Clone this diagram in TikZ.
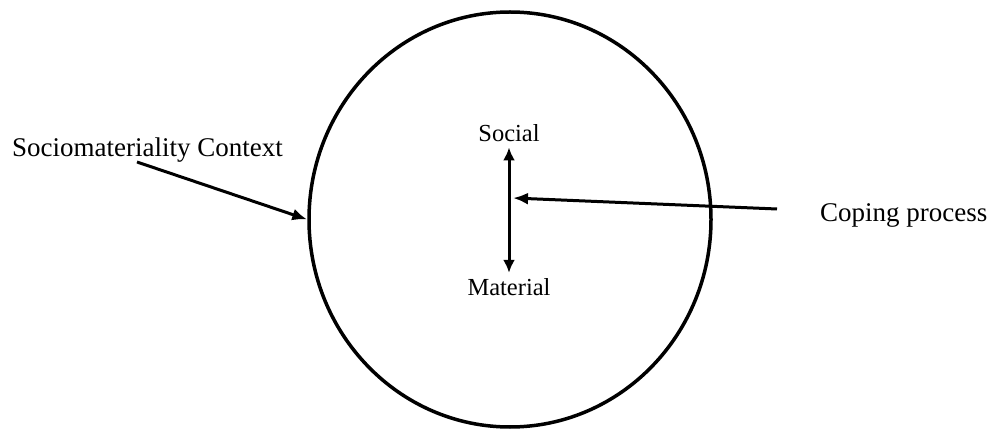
\documentclass[tikz,border=0pt]{standalone}
\usepackage{fontspec}
\setmainfont{Liberation Serif}
\usetikzlibrary{arrows.meta,shapes.geometric}

\begin{document}
\begin{tikzpicture}[x=1pt,y=-1pt]
\path[use as bounding box] (0,0) rectangle (990,430);
\tikzstyle{label}=[font=\fontsize{27}{30}\selectfont, inner sep=0pt]
\tikzstyle{pole}=[font=\fontsize{24.5}{28}\selectfont, inner sep=5pt]
\tikzstyle{pointer}=[-{Latex[length=15pt,width=12pt]}, line width=3pt]

\node[ellipse, draw, line width=3.5pt, minimum width=402pt, minimum height=415pt, inner sep=0pt] (ctx) at (510,219.5) {};

\node[pole, anchor=base] (social) at (509,142) {Social};
\node[pole, anchor=base] (material) at (509,295) {Material};
\draw[{Latex[length=13pt,width=12pt]}-{Latex[length=13pt,width=12pt]}, line width=3pt] (social.south) -- (material.north);

\node[label, anchor=base west] (ctxlabel) at (12,157) {Sociomateriality Context};
\coordinate (ctxfoot) at (137,162);
\draw[pointer] (ctxfoot) -- (ctx.west);

\node[label, anchor=base west] (coping) at (820,222) {Coping process};
\coordinate (copingfoot) at (777,209);
\coordinate (axis) at (513,198);
\draw[pointer] (copingfoot) -- (axis);
\end{tikzpicture}
\end{document}
